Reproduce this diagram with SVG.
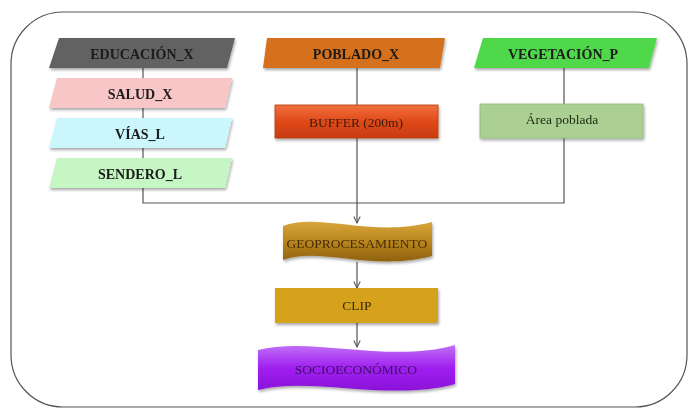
<svg xmlns="http://www.w3.org/2000/svg" width="689" height="408" viewBox="0 0 689 408">
<style>
.lbl{font-family:"Liberation Serif","Times New Roman",serif;font-weight:bold;font-size:14px;fill:#1a1a1a;text-anchor:middle;dominant-baseline:central}
.reg{font-family:"Liberation Serif","Times New Roman",serif;font-size:13.5px;text-anchor:middle;dominant-baseline:central}
.conn{fill:none;stroke:#555;stroke-width:1.2}
</style>
<defs>
<filter id="sh" x="-10%" y="-20%" width="125%" height="150%">
<feGaussianBlur in="SourceAlpha" stdDeviation="1.5"/>
<feOffset dx="1" dy="2" result="b"/>
<feComponentTransfer><feFuncA type="linear" slope="0.35"/></feComponentTransfer>
<feMerge><feMergeNode/><feMergeNode in="SourceGraphic"/></feMerge>
</filter>
<linearGradient id="gBuf" x1="0" y1="0" x2="0" y2="1">
<stop offset="0" stop-color="#f07040"/><stop offset="0.5" stop-color="#e04a18"/><stop offset="1" stop-color="#c83c10"/>
</linearGradient>
<linearGradient id="gGeo" x1="0" y1="0" x2="0" y2="1">
<stop offset="0" stop-color="#d7a53a"/><stop offset="0.5" stop-color="#b8861c"/><stop offset="1" stop-color="#8f6210"/>
</linearGradient>
<linearGradient id="gSoc" x1="0" y1="0" x2="0" y2="1">
<stop offset="0" stop-color="#c070f8"/><stop offset="0.5" stop-color="#a020f0"/><stop offset="1" stop-color="#8a10d8"/>
</linearGradient>
<marker id="arr" viewBox="0 0 10 10" refX="9" refY="5" markerWidth="8" markerHeight="8" orient="auto" markerUnits="userSpaceOnUse">
<path d="M1,1 L9,5 L1,9" fill="none" stroke="#555" stroke-width="1.3"/>
</marker>
</defs>
<rect x="0" y="0" width="689" height="408" fill="#ffffff"/>
<rect id="frame" x="11" y="12" width="676" height="395" rx="52" ry="52" fill="#ffffff" stroke="#555" stroke-width="1.2"/>

<g id="connectors">
<path class="conn" d="M143,68 V203 H564 V138"/>
<path class="conn" d="M564,68 V104"/>
<path class="conn" d="M357,68 V105"/>
<path class="conn" d="M357,138 V223" marker-end="url(#arr)"/>
<path class="conn" d="M357,262 V288" marker-end="url(#arr)"/>
<path class="conn" d="M357,323 V347" marker-end="url(#arr)"/>
</g>

<g id="educacion" filter="url(#sh)">
<polygon points="59,38 235,38 227,68 49,68" fill="#626262"/>
<text class="lbl" x="142" y="54">EDUCACIÓN_X</text>
</g>
<g id="salud" filter="url(#sh)">
<polygon points="57,78 232,78 225,108 49,108" fill="#f8c6c6"/>
<text class="lbl" x="140" y="94">SALUD_X</text>
</g>
<g id="vias" filter="url(#sh)">
<polygon points="57,118 232,118 225,148 49,148" fill="#cbf6fc"/>
<text class="lbl" x="140" y="134">VÍAS_L</text>
</g>
<g id="sendero" filter="url(#sh)">
<polygon points="57,158 232,158 225,188 49,188" fill="#c6f6c4"/>
<text class="lbl" x="140" y="174">SENDERO_L</text>
</g>

<g id="poblado" filter="url(#sh)">
<polygon points="267,38 445,38 440,68 263,68" fill="#d5701a"/>
<text class="lbl" x="356" y="54">POBLADO_X</text>
</g>
<g id="buffer" filter="url(#sh)">
<rect x="275" y="105" width="163" height="33" fill="url(#gBuf)" stroke="#b83a10" stroke-width="0.8"/>
<text class="reg" x="356" y="122" fill="#3a1a10">BUFFER (200m)</text>
</g>

<g id="vegetacion" filter="url(#sh)">
<polygon points="483,38 657,38 649,68 474,68" fill="#4fd84a"/>
<text class="lbl" x="563" y="54">VEGETACIÓN_P</text>
</g>
<g id="area" filter="url(#sh)">
<rect x="480" y="104" width="163" height="34" fill="#acd093" stroke="#8fb878" stroke-width="0.8"/>
<text class="reg" x="562" y="119" fill="#1a2a10">Área poblada</text>
</g>

<g id="geoproc" filter="url(#sh)">
<path d="M283,226 C318,212 372,238 432,222 L432,256 C372,272 318,246 283,260 Z" fill="url(#gGeo)"/>
<text class="reg" x="357" y="243" fill="#4a2a08">GEOPROCESAMIENTO</text>
</g>
<g id="clip" filter="url(#sh)">
<rect x="275" y="288" width="163" height="35" fill="#d6a21a"/>
<text class="reg" x="357" y="305" fill="#3a2a08">CLIP</text>
</g>
<g id="socio" filter="url(#sh)">
<path d="M258,350 C310,336 390,364 455,345 L455,384 C390,402 310,376 258,390 Z" fill="url(#gSoc)"/>
<text class="reg" x="356" y="369" fill="#3a1060">SOCIOECONÓMICO</text>
</g>
</svg>
